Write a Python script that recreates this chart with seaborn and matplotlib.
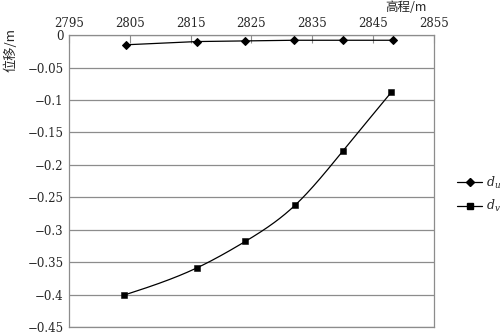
import numpy as np
import pandas as pd
import matplotlib
matplotlib.use("Agg")
import matplotlib.pyplot as plt
from matplotlib.lines import Line2D
import seaborn as sns

sns.set_style("white")
plt.rcParams['font.family'] = ['DejaVu Serif']
plt.rcParams['mathtext.fontset'] = 'dejavuserif'

elev_u = [2804.3, 2816.0, 2824.0, 2832.0, 2840.0, 2848.2]
du = [-0.015, -0.010, -0.009, -0.008, -0.008, -0.008]
elev_v = [2804.0, 2816.0, 2824.0, 2832.2, 2840.0, 2848.0]
dv = [-0.401, -0.359, -0.318, -0.262, -0.179, -0.088]
xticks = [2795, 2805, 2815, 2825, 2835, 2845, 2855]
yticks = [0, -0.05, -0.1, -0.15, -0.2, -0.25, -0.3, -0.35, -0.4, -0.45]


def natural_spline(xs, ys, n=200):
    x = np.asarray(xs, float); y = np.asarray(ys, float)
    k = len(x); h = np.diff(x)
    A = np.zeros((k, k)); b = np.zeros(k)
    A[0, 0] = A[-1, -1] = 1
    for i in range(1, k - 1):
        A[i, i - 1] = h[i - 1]; A[i, i] = 2 * (h[i - 1] + h[i]); A[i, i + 1] = h[i]
        b[i] = 6 * ((y[i + 1] - y[i]) / h[i] - (y[i] - y[i - 1]) / h[i - 1])
    M = np.linalg.solve(A, b)
    xx = np.linspace(x[0], x[-1], n)
    idx = np.clip(np.searchsorted(x, xx) - 1, 0, k - 2)
    x0, x1 = x[idx], x[idx + 1]; hh = x1 - x0
    yy = (M[idx] * (x1 - xx) ** 3 / (6 * hh) + M[idx + 1] * (xx - x0) ** 3 / (6 * hh)
          + (y[idx] / hh - M[idx] * hh / 6) * (x1 - xx) + (y[idx + 1] / hh - M[idx + 1] * hh / 6) * (xx - x0))
    return xx, yy


fig = plt.figure(figsize=(5.04, 3.34), dpi=100)
ax = fig.add_axes([0.137, 0.021, 0.724, 0.874])

df_u = pd.DataFrame({"x": elev_u, "y": du})
df_v = pd.DataFrame({"x": elev_v, "y": dv})
sx, sy = natural_spline(elev_v, dv)
df_s = pd.DataFrame({"x": sx, "y": sy})

for yt in yticks:
    ax.axhline(yt, color="#8c8c8c", lw=0.9, zorder=0)

sns.lineplot(data=df_u, x="x", y="y", ax=ax, color="black", lw=0.9, marker="D",
             markersize=4.5, markeredgecolor="black", sort=False, zorder=3)
sns.lineplot(data=df_s, x="x", y="y", ax=ax, color="black", lw=0.9, sort=False, zorder=3)
sns.scatterplot(data=df_v, x="x", y="y", ax=ax, color="black", marker="s", s=22,
                edgecolor="black", zorder=4)

ax.set_xlim(2795, 2855)
ax.set_ylim(-0.45, 0)
ax.xaxis.tick_top()
ax.set_xticks(xticks)
ax.set_xticklabels([str(v) for v in xticks], fontsize=8.5)
ax.set_yticks(yticks)
ax.set_yticklabels(["0"] + ["\u2212" + ("%g" % abs(v)) for v in yticks[1:]], fontsize=8.5)
ax.tick_params(axis="x", direction="in", length=6, color="#8c8c8c", pad=4, top=True, bottom=False)
ax.tick_params(axis="y", length=0, pad=4)
ax.set_xlabel("")
ax.set_ylabel("")
for s in ax.spines.values():
    s.set_color("#8c8c8c")
    s.set_linewidth(0.9)

fig.text(0.805, 0.996, "高程/m", fontsize=9, family=["Noto Sans CJK SC", "DejaVu Sans"],
         ha="center", va="top")
fig.text(0.022, 0.85, "位移/m", fontsize=9.5, family=["Noto Sans CJK SC", "DejaVu Sans"],
         rotation=90, ha="center", va="center")

handles = [Line2D([], [], color="black", lw=0.9, marker="D", markersize=4),
           Line2D([], [], color="black", lw=0.9, marker="s", markersize=4)]
fig.legend(handles, ["$d_u$", "$d_v$"], loc="center left", bbox_to_anchor=(0.907, 0.418),
           frameon=False, fontsize=9, handlelength=2.0, labelspacing=0.6, handletextpad=0.3,
           borderpad=0, borderaxespad=0)

fig.savefig("out.png", dpi=100)
